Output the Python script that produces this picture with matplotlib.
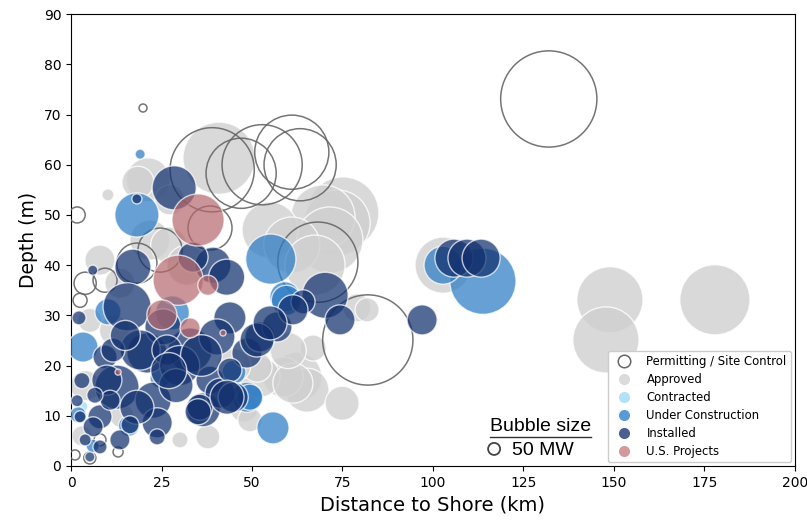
import matplotlib
matplotlib.use("Agg")
import matplotlib.pyplot as plt
from matplotlib.lines import Line2D

# ---- data (distance km, depth m, capacity MW) ----
permit_dist = [132.0, 19.9, 1.7, 39.0, 47.0, 52.8, 61.0, 63.3, 82.0, 68.2,
               3.9, 2.5, 18.2, 9.4, 38.4, 24.6, 1.1, 5.2, 13.0, 8.0]
permit_depth = [73.1, 71.3, 50.0, 59.0, 58.3, 60.0, 62.5, 60.0, 25.1, 40.6,
                36.4, 33.0, 40.4, 37.0, 47.4, 43.0, 2.2, 1.6, 2.8, 5.2]
permit_mw = [3200, 22, 89, 2450, 1700, 2220, 1900, 1800, 2815, 2220,
             170, 68, 556, 200, 670, 670, 35, 50, 35, 50]

appr_dist = [148.9, 147.8, 177.9, 102.8, 40.9, 75.1, 73.5, 69.6, 71.5, 55.0,
             61.0, 67.4, 21.3, 18.5, 10.2, 21.8, 8.0, 5.2, 62.4, 65.2,
             58.6, 74.9, 66.9, 79.0, 81.8, 30.1, 37.8, 52.2, 61.3, 47.8,
             49.4, 27.3, 13.5, 51.4, 60.0, 4.0, 12.0, 27.0, 32.0, 3.0,
             14.0, 45.0]
appr_depth = [33.1, 25.1, 33.1, 40.0, 61.3, 50.4, 48.4, 49.6, 45.0, 47.0,
              44.0, 40.0, 57.0, 56.5, 54.0, 45.0, 41.0, 29.0, 17.7, 15.1,
              17.7, 12.5, 23.5, 31.5, 31.1, 5.2, 5.8, 17.7, 16.5, 11.5,
              9.2, 53.0, 36.4, 19.7, 23.0, 16.0, 27.0, 44.0, 40.0, 6.0,
              10.0, 20.0]
appr_mw = [1514, 1514, 1703, 1090, 1800, 1800, 1514, 1423, 1514, 1090,
           1090, 1250, 670, 356, 50, 556, 313, 200, 870, 670,
           556, 400, 235, 272, 200, 89, 200, 556, 556, 272,
           200, 313, 313, 313, 450, 313, 313, 450, 556, 139,
           200, 400]

contr_dist = [3.0]
contr_depth = [12.0]
contr_mw = [40]

uc_dist = [113.8, 102.8, 55.2, 18.2, 19.1, 55.8, 48.6, 3.3, 59.1, 10.2,
           2.0, 24.6, 45.0, 6.0, 49.4, 59.5, 28.0, 16.0]
uc_depth = [36.8, 40.0, 41.2, 50.0, 62.1, 7.6, 13.7, 23.7, 33.7, 30.7,
            10.2, 17.5, 18.7, 4.0, 13.7, 33.0, 30.5, 8.0]
uc_mw = [1514, 500, 870, 673, 35, 356, 313, 313, 313, 235,
         89, 139, 200, 60, 235, 313, 400, 150]

inst_dist = [105.8, 109.4, 113.3, 97.0, 28.5, 70.2, 74.3, 64.1, 39.2, 17.1,
             15.5, 43.9, 32.9, 21.0, 9.4, 12.7, 22.7, 23.8, 8.0, 36.5,
             48.6, 52.2, 56.9, 61.3, 40.3, 38.4, 41.2, 44.8, 25.4, 19.1,
             18.2, 23.8, 8.0, 5.2, 2.5, 9.9, 6.1, 11.6, 26.5, 35.6,
             3.0, 1.7, 3.9, 13.5, 16.3, 10.8, 6.6, 2.2, 6.0, 33.7,
             18.2, 43.0, 30.0, 36.0, 51.4, 55.0, 43.9, 43.1, 35.1, 29.0,
             15.0, 27.0]
inst_depth = [41.4, 41.4, 41.4, 29.1, 55.4, 34.0, 29.1, 32.7, 40.0, 39.6,
              31.7, 29.5, 23.1, 22.5, 21.7, 15.7, 13.1, 8.6, 9.8, 11.2,
              22.5, 25.7, 27.7, 31.1, 25.7, 17.1, 14.5, 13.7, 27.7, 23.1,
              11.7, 5.8, 3.8, 1.8, 9.8, 17.1, 7.8, 23.1, 23.1, 11.7,
              17.0, 13.0, 5.2, 5.2, 8.2, 13.1, 14.1, 29.5, 39.0, 41.6,
              53.2, 37.6, 20.0, 22.0, 25.1, 28.5, 19.1, 13.7, 10.8, 16.0,
              26.0, 19.0]
inst_mw = [500, 500, 500, 313, 673, 735, 313, 200, 450, 450,
           800, 356, 673, 556, 200, 673, 450, 313, 200, 400,
           313, 313, 313, 313, 450, 272, 313, 313, 450, 556,
           400, 89, 68, 35, 50, 313, 139, 200, 313, 235,
           89, 50, 50, 139, 113, 139, 89, 68, 35, 313,
           35, 450, 556, 600, 400, 400, 200, 400, 235, 400,
           313, 450]

us_dist = [35.1, 29.6, 37.8, 25.1, 32.9, 42.0, 13.0]
us_depth = [49.0, 37.0, 36.0, 30.1, 27.5, 26.5, 18.7]
us_mw = [940, 870, 139, 313, 139, 13, 13]

xticks = [0, 25, 50, 75, 100, 125, 150, 175, 200]
yticks = [0, 10, 20, 30, 40, 50, 60, 70, 80, 90]

def sz(mw):
    return [m * 1.5 for m in mw]

fig = plt.figure(figsize=(8.07, 5.23), dpi=100)
ax = fig.add_axes([0.088, 0.109, 0.897, 0.864])

ax.scatter(appr_dist, appr_depth, s=sz(appr_mw), color="#d0d0d0", alpha=0.8,
           edgecolors="white", linewidths=1, zorder=2)
ax.scatter(permit_dist, permit_depth, s=sz(permit_mw), facecolors="none",
           edgecolors="#666666", linewidths=1.1, alpha=0.9, zorder=3)
ax.scatter(contr_dist, contr_depth, s=sz(contr_mw), color="#a6dcf5", alpha=0.8,
           edgecolors="white", linewidths=1, zorder=4)
ax.scatter(uc_dist, uc_depth, s=sz(uc_mw), color="#2b7bc4", alpha=0.72,
           edgecolors="white", linewidths=1, zorder=5)
ax.scatter(inst_dist, inst_depth, s=sz(inst_mw), color="#12306e", alpha=0.72,
           edgecolors="white", linewidths=1, zorder=6)
ax.scatter(us_dist, us_depth, s=sz(us_mw), color="#b5676c", alpha=0.7,
           edgecolors="white", linewidths=1, zorder=7)

ax.set_xlim(0, 200)
ax.set_ylim(0, 90)
ax.set_xticks(xticks)
ax.set_yticks(yticks)
ax.tick_params(labelsize=10)
ax.set_xlabel("Distance to Shore (km)", fontsize=14)
ax.set_ylabel("Depth (m)", fontsize=13.5)

handles = [
    Line2D([], [], marker="o", linestyle="none", markersize=9,
           markerfacecolor="none", markeredgecolor="#666666", markeredgewidth=1.1),
    Line2D([], [], marker="o", linestyle="none", markersize=9,
           markerfacecolor="#dadada", markeredgecolor="white"),
    Line2D([], [], marker="o", linestyle="none", markersize=9,
           markerfacecolor="#b3e2f8", markeredgecolor="white"),
    Line2D([], [], marker="o", linestyle="none", markersize=9,
           markerfacecolor="#5b9bd5", markeredgecolor="white"),
    Line2D([], [], marker="o", linestyle="none", markersize=9,
           markerfacecolor="#4a5f8f", markeredgecolor="white"),
    Line2D([], [], marker="o", linestyle="none", markersize=9,
           markerfacecolor="#d39a9c", markeredgecolor="white"),
]
labels = ["Permitting / Site Control", "Approved", "Contracted",
          "Under Construction", "Installed", "U.S. Projects"]
leg = ax.legend(handles, labels, loc="lower right", fontsize=8.4,
                borderaxespad=0.3, handletextpad=0.9, labelspacing=0.42,
                framealpha=1)
leg.set_zorder(10)

# bubble size key
ax.text(115.7, 7.8, "Bubble size", fontsize=14, family="Liberation Sans",
        va="center", zorder=10)
ax.plot([115.7, 143.6], [5.8, 5.8], color="#333333", lw=1, zorder=10)
ax.scatter([116.9], [3.4], s=sz([50]), facecolors="none", edgecolors="#444444",
           linewidths=1.3, zorder=10)
ax.text(121.8, 3.1, "50 MW", fontsize=14, family="Liberation Sans",
        va="center", zorder=10)

fig.savefig("out.png", dpi=100)
